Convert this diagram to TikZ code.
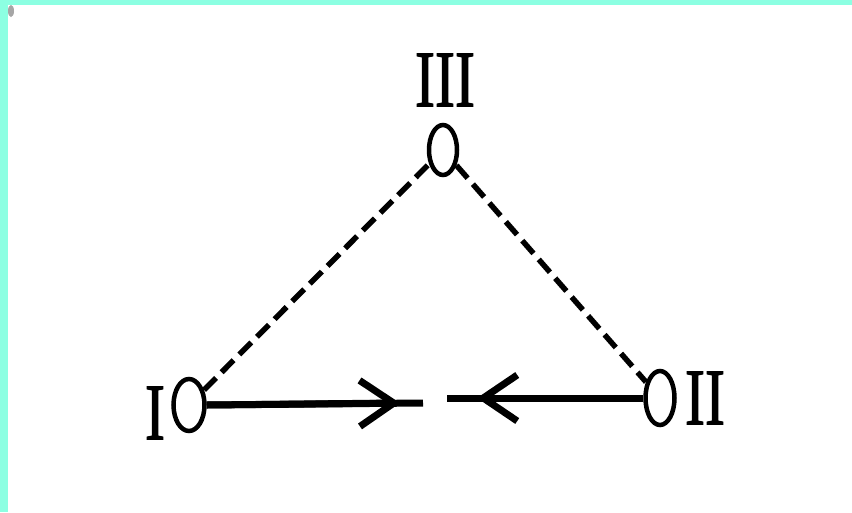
\documentclass[tikz,border=0pt]{standalone}
\usepackage{fontspec}
\usepackage{graphicx}
\usetikzlibrary{shapes.geometric,arrows.meta}
\newfontfamily\lblfont{Liberation Serif}[FakeBold=1.5]
\definecolor{bandcyan}{RGB}{140,255,226}
\tikzset{
  vertex/.style={draw=black, line width=4.5pt, ellipse, inner sep=0pt},
  lbl/.style={font=\lblfont\fontsize{80}{82}\selectfont, inner sep=0pt},
  dashline/.style={line width=5.5pt, dash pattern=on 17pt off 8pt},
  arrline/.style={line width=7pt},
  headtip/.style={-{Straight Barb[length=34pt,width=46pt,line width=7pt]}}
}
\begin{document}
\begin{tikzpicture}[x=1pt,y=-1pt]
\useasboundingbox (0,0) rectangle (852,512);
\fill[white] (0,0) rectangle (852,512);
\fill[bandcyan] (0,0) rectangle (852,5);
\fill[bandcyan] (0,0) rectangle (8,512);
\fill[gray!70] (11,11) ellipse [x radius=3, y radius=6];
% vertices
\node[vertex, minimum width=31pt, minimum height=52pt] (I) at (189,405) {};
\node[vertex, minimum width=28pt, minimum height=50pt] (III) at (443,150) {};
\node[vertex, minimum width=29pt, minimum height=54pt] (II) at (660,398) {};
% labels
\node[lbl] (lI) at (155,413) {\scalebox{0.75}[1]{I}};
\node[lbl] (lIII) at (445,80) {\scalebox{0.75}[1]{III}};
\node[lbl] (lII) at (705,398) {\scalebox{0.75}[1]{II}};
% dashed edges
\draw[dashline] (I) -- (III);
\draw[dashline] (III) -- (II);
% arrows
\coordinate (tipL) at (400,403);
\coordinate (endL) at (423,403);
\coordinate (tipR) at (477,398);
\coordinate (endR) at (447,398);
\draw[arrline] (I.east) -- (endL);
\draw[arrline, headtip] (I.east) -- (tipL);
\draw[arrline] (II.west) -- (endR);
\draw[arrline, headtip] (II.west) -- (tipR);
\end{tikzpicture}
\end{document}
